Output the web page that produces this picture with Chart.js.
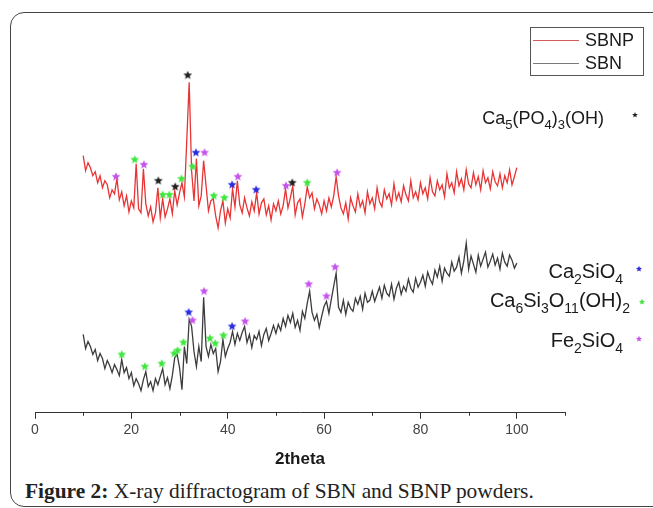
<!DOCTYPE html>
<html>
<head>
<meta charset="utf-8">
<script src="https://cdn.jsdelivr.net/npm/chart.js@4/dist/chart.umd.min.js"></script>
<style>
  html, body { margin: 0; padding: 0; background: #fff; }
  body { width: 653px; height: 508px; position: relative; overflow: hidden; }
  #frame {
    position: absolute; left: 10px; top: 12px; width: 720px; height: 495px;
    border: 1px solid #444; border-radius: 14px; box-sizing: border-box;
  }
  #wrap { position: absolute; left: 0; top: 0; width: 653px; height: 478px; }
  #caption {
    position: absolute; left: 25px; top: 479px; white-space: nowrap;
    font-family: "Liberation Serif", serif; font-size: 21.4px; color: #222;
  }
</style>
</head>
<body>
<div id="frame"></div>
<div id="wrap"><canvas id="xrd"></canvas></div>
<div id="caption"><b>Figure 2:</b> X-ray diffractogram of SBN and SBNP powders.</div>
<script>
// 2theta sampling (degrees)
const twoTheta = [
  10,10.5,11,11.5,12,12.5,13,13.5,14,14.5,15,15.5,16,16.5,17,17.5,18,18.5,19,19.5,
  20,20.5,21,21.5,22,22.5,23,23.5,24,24.5,25,25.5,26,26.5,27,27.5,28,28.5,29,29.5,
  30,30.5,31,31.5,32,32.5,33,33.5,34,34.5,35,35.5,36,36.5,37,37.5,38,38.5,39,39.5,
  40,40.5,41,41.5,42,42.5,43,43.5,44,44.5,45,45.5,46,46.5,47,47.5,48,48.5,49,49.5,
  50,50.5,51,51.5,52,52.5,53,53.5,54,54.5,55,55.5,56,56.5,57,57.5,58,58.5,59,59.5,
  60,60.5,61,61.5,62,62.5,63,63.5,64,64.5,65,65.5,66,66.5,67,67.5,68,68.5,69,69.5,
  70,70.5,71,71.5,72,72.5,73,73.5,74,74.5,75,75.5,76,76.5,77,77.5,78,78.5,79,79.5,
  80,80.5,81,81.5,82,82.5,83,83.5,84,84.5,85,85.5,86,86.5,87,87.5,88,88.5,89,89.5,
  90,90.5,91,91.5,92,92.5,93,93.5,94,94.5,95,95.5,96,96.5,97,97.5,98,98.5,99,99.5,
  100
];

// intensity, arbitrary units (curves are offset, no y axis shown)
const sbnp = [
  256,241,249,244,236,240,229,236,224,231,227,214,222,218,233,212,220,206,216,200,
  211,204,248,203,199,243,208,196,205,190,199,224,194,213,195,203,213,198,221,207,
  219,229,215,271,329,241,211,253,206,216,251,226,201,211,213,196,184,201,211,189,
  203,194,223,205,231,207,199,214,204,196,210,201,219,198,209,213,197,206,192,208,
  201,211,198,206,223,204,214,226,197,209,213,195,208,225,214,219,203,213,207,198,
  211,201,214,205,216,235,216,204,198,209,193,214,206,200,218,205,211,199,220,208,
  214,203,224,210,205,222,213,218,207,228,212,219,210,226,217,211,231,214,220,212,
  229,218,224,213,234,220,216,231,222,227,215,238,224,229,219,240,226,233,222,242,
  228,224,239,227,235,222,241,229,234,223,240,230,226,238,224,236,229,242,227,235,
  244
];

const sbn = [
  78,64,71,66,58,63,52,59,54,44,52,47,40,48,43,37,53,40,45,34,
  40,27,34,29,22,33,41,26,31,22,34,28,36,44,28,35,24,37,55,58,
  45,23,66,49,93,86,61,46,66,51,115,66,56,68,59,64,41,51,73,56,
  64,70,81,68,79,72,80,86,70,78,65,77,73,81,67,78,84,72,79,87,
  79,88,82,94,86,97,90,99,85,92,82,101,94,109,121,100,92,98,85,96,
  106,111,99,113,126,139,105,100,112,98,110,104,101,114,108,116,103,119,110,112,
  121,111,118,125,114,127,119,116,128,113,124,130,118,126,121,133,124,120,134,125,
  130,137,126,140,133,128,142,135,146,131,144,139,136,150,141,145,155,139,151,169,
  143,156,148,140,157,146,153,160,145,151,158,147,154,143,159,150,146,157,152,144,
  149
];

// phase markers [2theta, intensity]
const hapSbnp = [[25.6, 231], [29.1, 225], [31.7, 336], [53.4, 229]];
const c2sSbnp = [[33.4, 259], [40.9, 227], [45.9, 222]];
const cshSbnp = [[20.7, 252], [26.5, 217], [27.9, 217], [30.4, 233], [32.7, 245], [37.1, 216], [39.3, 214], [56.5, 229]];
const faySbnp = [[16.8, 235], [22.6, 247], [35.2, 259], [42.1, 235], [52.1, 226], [62.7, 239]];

const c2sSbn = [[31.9, 100], [40.9, 86]];
const cshSbn = [[18.0, 58], [22.8, 46], [26.3, 49], [28.9, 59], [29.6, 62], [30.8, 70], [36.3, 74], [37.4, 69], [39.1, 77]];
const faySbn = [[32.7, 92], [35.1, 121], [43.6, 91], [56.8, 128], [60.5, 116], [62.3, 145]];

const xTicks = [0, 20, 40, 60, 80, 100];
const phaseColors = { hap: '#222222', c2s: '#2b2be0', csh: '#3fe63f', fay: '#c553ec' };

function starImage(color, r) {
    const c = document.createElement('canvas');
    const s = Math.ceil(r * 2 + 2);
    c.width = c.height = s;
    const g = c.getContext('2d');
    g.fillStyle = color;
    g.beginPath();
    for (let k = 0; k < 10; k++) {
        const rad = k % 2 ? r * 0.45 : r;
        const a = -Math.PI / 2 + k * Math.PI / 5;
        g.lineTo(s / 2 + rad * Math.cos(a), s / 2 + rad * Math.sin(a));
    }
    g.closePath();
    g.fill();
    return c;
}

function starSet(points, color) {
    return {
        type: 'scatter',
        data: points.map(p => ({ x: p[0], y: p[1] })),
        pointStyle: starImage(color, 4.6),
        order: 0,
    };
}

function drawStar(ctx, x, y, r, color) {
    ctx.fillStyle = color;
    ctx.beginPath();
    for (let k = 0; k < 10; k++) {
        const rad = k % 2 ? r * 0.45 : r;
        const a = -Math.PI / 2 + k * Math.PI / 5;
        ctx.lineTo(x + rad * Math.cos(a), y + rad * Math.sin(a));
    }
    ctx.closePath();
    ctx.fill();
}

// text with subscripts, right aligned
function drawFormula(ctx, parts, right, base, size) {
    const main = size + 'px "Liberation Sans", Arial, sans-serif';
    const sub = Math.round(size * 0.7) + 'px "Liberation Sans", Arial, sans-serif';
    let w = 0;
    parts.forEach(p => { ctx.font = p[1] ? sub : main; w += ctx.measureText(p[0]).width; });
    let x = right - w;
    ctx.fillStyle = '#1a1a1a';
    ctx.textAlign = 'left';
    ctx.textBaseline = 'alphabetic';
    parts.forEach(p => {
        ctx.font = p[1] ? sub : main;
        ctx.fillText(p[0], x, p[1] ? base + size * 0.28 : base);
        x += ctx.measureText(p[0]).width;
    });
}

const extras = {
    id: 'extras',
    afterDraw(chart) {
        const ctx = chart.ctx;
        const xs = chart.scales.x;
        const bottom = chart.chartArea.bottom;
        ctx.save();
        // minor ticks
        ctx.strokeStyle = '#333';
        ctx.lineWidth = 1;
        [10, 30, 50, 70, 90, 110].forEach(v => {
            const px = Math.round(xs.getPixelForValue(v)) + 0.5;
            ctx.beginPath();
            ctx.moveTo(px, bottom);
            ctx.lineTo(px, bottom + 3);
            ctx.stroke();
        });
        // legend box
        ctx.strokeStyle = '#555';
        ctx.strokeRect(530.5, 27.5, 113, 48);
        ctx.strokeStyle = '#d45a5a';
        ctx.beginPath(); ctx.moveTo(533, 40.5); ctx.lineTo(579, 40.5); ctx.stroke();
        ctx.strokeStyle = '#7a7a7a';
        ctx.beginPath(); ctx.moveTo(533, 63.5); ctx.lineTo(579, 63.5); ctx.stroke();
        ctx.fillStyle = '#1a1a1a';
        ctx.font = '18px "Liberation Sans", Arial, sans-serif';
        ctx.textBaseline = 'middle';
        ctx.fillText('SBNP', 585, 41);
        ctx.fillText('SBN', 585, 64);
        // phase labels
        drawFormula(ctx, [['Ca', 0], ['5', 1], ['(PO', 0], ['4', 1], [')', 0], ['3', 1], ['(OH)', 0]], 604, 124, 18);
        drawStar(ctx, 635, 115, 3, phaseColors.hap);
        drawFormula(ctx, [['Ca', 0], ['2', 1], ['SiO', 0], ['4', 1]], 623, 278, 20);
        drawStar(ctx, 639, 269, 3.2, phaseColors.c2s);
        drawFormula(ctx, [['Ca', 0], ['6', 1], ['Si', 0], ['3', 1], ['O', 0], ['11', 1], ['(OH)', 0], ['2', 1]], 630, 307, 20);
        drawStar(ctx, 642, 302, 3.2, phaseColors.csh);
        drawFormula(ctx, [['Fe', 0], ['2', 1], ['SiO', 0], ['4', 1]], 623, 347, 20);
        drawStar(ctx, 639, 339, 3.2, phaseColors.fay);
        ctx.restore();
    },
};

new Chart(document.getElementById('xrd'), {
    type: 'line',
    data: {
        datasets: [
            starSet(hapSbnp, phaseColors.hap),
            starSet(c2sSbnp, phaseColors.c2s),
            starSet(cshSbnp, phaseColors.csh),
            starSet(faySbnp, phaseColors.fay),
            starSet(c2sSbn, phaseColors.c2s),
            starSet(cshSbn, phaseColors.csh),
            starSet(faySbn, phaseColors.fay),
            {
                label: 'SBNP',
                data: twoTheta.map((t, i) => ({ x: t, y: sbnp[i] })),
                borderColor: '#e83434',
                borderWidth: 1.3,
                pointRadius: 0,
                order: 1,
            },
            {
                label: 'SBN',
                data: twoTheta.map((t, i) => ({ x: t, y: sbn[i] })),
                borderColor: '#3c3c3c',
                borderWidth: 1.3,
                pointRadius: 0,
                order: 1,
            },
        ],
    },
    options: {
        responsive: true,
        maintainAspectRatio: false,
        animation: false,
        layout: { padding: { left: 35, right: 88, top: 11, bottom: 8 } },
        plugins: { legend: { display: false }, tooltip: { enabled: false } },
        scales: {
            x: {
                type: 'linear',
                min: 0,
                max: 110,
                afterBuildTicks: axis => {
                    axis.ticks = [0, 10, 20, 30, 40, 50, 60, 70, 80, 90, 100, 110].map(v => ({ value: v }));
                },
                ticks: {
                    autoSkip: false,
                    maxRotation: 0,
                    padding: 3,
                    color: '#444',
                    font: { family: '"Liberation Sans", Arial, sans-serif', size: 14 },
                    callback: v => xTicks.includes(v) ? String(v) : '',
                },
                grid: {
                    drawOnChartArea: false,
                    tickLength: 6,
                    tickColor: c => (c.tick && xTicks.includes(c.tick.value)) ? '#333' : 'rgba(0,0,0,0)',
                },
                border: { color: '#333', width: 1 },
                title: {
                    display: true,
                    text: '2theta',
                    color: '#1a1a1a',
                    font: { family: '"Liberation Sans", Arial, sans-serif', size: 17, weight: 'bold' },
                    padding: { top: 8, bottom: 0 },
                },
            },
            y: { display: false, min: 0, max: 400 },
        },
    },
    plugins: [extras],
});
</script>
</body>
</html>
